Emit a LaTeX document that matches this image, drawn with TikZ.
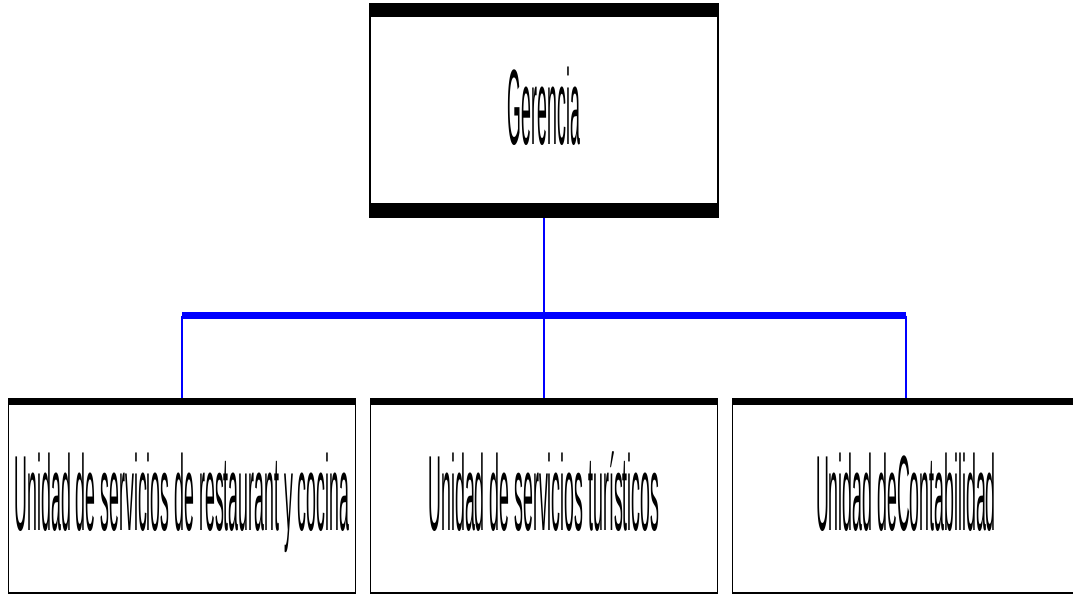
\documentclass[tikz,border=0pt]{standalone}
\usepackage{fontspec}
\setmainfont{Liberation Sans}
\usepackage{graphicx}
\newcommand\condtxt[1]{\scalebox{0.166}[1]{#1}}
\tikzset{
  box/.style={draw=black, fill=white, rectangle, inner sep=0pt,
    font=\fontsize{107}{110}\selectfont, text height=80pt, text depth=12pt},
  topbox/.style={box, line width=2pt, minimum width=348pt, minimum height=213pt},
  unitbox/.style={box, line width=1.5pt, minimum width=347pt, minimum height=194pt},
  bar/.style={fill=black},
  conn/.style={draw=blue, line width=1.5pt},
  bus/.style={draw=blue, line width=7pt}
}
\begin{document}
\begin{tikzpicture}[x=1pt, y=-1pt]
\useasboundingbox (0,0) rectangle (1073,594);
% boxes
\node[topbox] (ger) at (544,110.5) {\condtxt{Gerencia}};
\node[unitbox] (ur) at (182,496) {\condtxt{Unidad de servicios de restaurant y cocina}};
\node[unitbox] (ut) at (544,496) {\condtxt{Unidad de servicios turísticos}};
\node[unitbox] (uc) at (906,496) {\condtxt{Unidad deContabilidad}};
% thick bars
\fill[bar] (ger.north west) rectangle ([yshift=-14pt]ger.north east);
\fill[bar] ([yshift=15pt]ger.south west) rectangle (ger.south east);
\foreach \bx in {ur,ut,uc}{
  \fill[bar] (\bx.north west) rectangle ([yshift=-7pt]\bx.north east);
}
% connectors
\coordinate (busL) at (ur.north |- 0,315.5);
\coordinate (busR) at (uc.north |- 0,315.5);
\draw[conn] (ger.south) -- (ut.north);
\draw[bus] (busL) -- (busR);
\draw[conn] (busL) -- (ur.north);
\draw[conn] (busR) -- (uc.north);
\end{tikzpicture}
\end{document}
